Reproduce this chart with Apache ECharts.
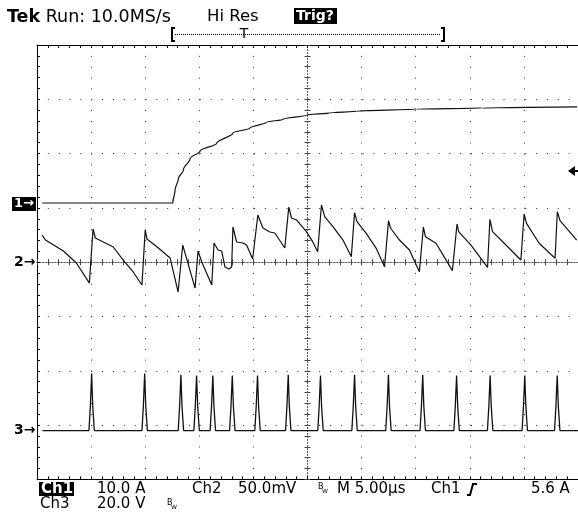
<!DOCTYPE html>
<html>
<head>
<meta charset="utf-8">
<script src="https://cdn.jsdelivr.net/npm/echarts@6/dist/echarts.min.js"></script>
<style>
html, body { margin: 0; padding: 0; background: #fff; }
#main { width: 578px; height: 516px; }
</style>
</head>
<body>
<div id="main"></div>
<script>
// time in µs from the screen centre (5 µs/div)
// Ch1: current in A (10 A/div)
var ch1Trace = [
    [-24.52, 0], [-12.45, 0], [-12.24, 2.4], [-11.93, 4.5], [-11.47, 6.1], [-10.85, 8.2],
    [-9.93, 9.6], [-8.39, 11.0], [-6.89, 12.9], [-5.32, 13.8], [-3.76, 14.9], [-2.28, 15.4],
    [-0.07, 16.2], [2.05, 16.6], [4.54, 16.9], [10.07, 17.3], [16.15, 17.5], [24.91, 17.7]
];

// Ch2: mV (50 mV/div)
var ch2Trace = [
    [-24.52, 25.0], [-24.22, 20.4], [-22.56, 10.3], [-21.36, -0.7], [-20.16, -19.2],
    [-19.82, 30.6], [-19.61, 22.3], [-17.95, 14.0], [-17.03, 2.0], [-16.11, -9.0], [-15.30, -21.0],
    [-15.0, 29.7], [-14.84, 21.4], [-13.89, 14.0], [-12.70, 3.9], [-11.96, -27.4],
    [-11.53, 15.8], [-10.39, -23.8], [-10.12, 10.3], [-9.77, 0.2], [-8.85, -21.0],
    [-8.64, 17.7], [-8.27, 11.2], [-7.93, 10.3], [-7.63, -4.4], [-7.26, -6.3], [-7.01, -4.4],
    [-6.89, 32.4], [-6.55, 18.6], [-5.97, 17.7], [-5.63, 15.8], [-5.07, 2.9],
    [-4.59, 43.5], [-4.12, 31.5], [-3.48, 27.8], [-3.02, 26.9], [-2.10, 13.1],
    [-1.73, 50.8], [-1.48, 40.7], [-1.02, 38.9], [-0.10, 28.1], [0.48, 18.9], [0.94, 9.7],
    [1.29, 52.7], [1.59, 41.9], [2.35, 32.7], [3.28, 20.4], [4.05, 5.1],
    [4.35, 45.6], [4.57, 37.3], [5.43, 26.6], [6.35, 12.8], [7.12, -4.1],
    [7.49, 38.2], [7.67, 31.5], [8.50, 20.4], [9.42, 11.2], [10.34, -8.7],
    [10.71, 32.4], [10.90, 23.5], [11.88, 17.4], [13.39, -7.8],
    [13.82, 35.2], [13.97, 28.1], [15.11, 15.8], [16.64, -4.7],
    [16.86, 39.5], [17.10, 28.1], [18.34, 15.8], [19.72, 2.0],
    [20.02, 44.4], [20.24, 35.8], [21.41, 17.4], [22.88, 3.6],
    [23.09, 46.5], [23.34, 38.2], [24.88, 20.4]
];

// Ch3: V (20 V/div)
var ch3Trace = [
    [-24.5, 0],
    [-20.2, 0], [-20.07, 9], [-19.95, 21], [-19.85, 9], [-19.7, 0],
    [-15.3, 0], [-15.17, 9], [-15.05, 21], [-14.95, 9], [-14.8, 0],
    [-11.95, 0], [-11.82, 9], [-11.7, 20.5], [-11.6, 9], [-11.45, 0],
    [-10.5, 0], [-10.37, 9], [-10.25, 20.3], [-10.15, 9], [-10.0, 0],
    [-9.0, 0], [-8.87, 9], [-8.75, 20.3], [-8.65, 9], [-8.5, 0],
    [-7.2, 0], [-7.07, 9], [-6.95, 20.3], [-6.85, 9], [-6.7, 0],
    [-4.87, 0], [-4.74, 9], [-4.62, 20.3], [-4.52, 9], [-4.37, 0],
    [-2.03, 0], [-1.9, 9], [-1.78, 20.5], [-1.68, 9], [-1.53, 0],
    [0.95, 0], [1.08, 9], [1.2, 20.3], [1.3, 9], [1.45, 0],
    [4.1, 0], [4.23, 9], [4.35, 20.5], [4.45, 9], [4.6, 0],
    [7.23, 0], [7.36, 9], [7.48, 20.5], [7.58, 9], [7.73, 0],
    [10.4, 0], [10.53, 9], [10.65, 20.5], [10.75, 9], [10.9, 0],
    [13.53, 0], [13.66, 9], [13.78, 20.3], [13.88, 9], [14.03, 0],
    [16.63, 0], [16.76, 9], [16.88, 20.3], [16.98, 9], [17.13, 0],
    [19.83, 0], [19.96, 9], [20.08, 20.3], [20.18, 9], [20.33, 0],
    [22.83, 0], [22.96, 9], [23.08, 20.3], [23.18, 9], [23.33, 0],
    [25, 0]
];

var header = ['Tek', ' Run: 10.0MS/s', 'Hi Res', 'Trig?'];
var readout1 = ['Ch1', '10.0 A', 'Ch2', '50.0mV', 'M 5.00µs', 'Ch1', '5.6 A'];
var readout2 = ['Ch3', '20.0 V'];

var FONT = '"DejaVu Sans"';
var dots = [1, 9.85];

function borderAxis(pos, split) {
    return {
        type: 'value', min: -25, max: 25, interval: 5, position: pos,
        axisLine: { onZero: false, lineStyle: { color: '#000', width: 1 } },
        axisTick: { inside: true, length: 3, lineStyle: { color: '#000' } },
        minorTick: { show: true, splitNumber: 5, length: 3, lineStyle: { color: '#000' } },
        splitLine: { show: split, lineStyle: { color: '#333', width: 1, type: dots } },
        axisLabel: { show: false }
    };
}
function centreX(inside) {
    return {
        type: 'value', min: -25, max: 25, interval: 5, position: 'bottom',
        axisLine: { onZero: true, onZeroAxisIndex: 0, lineStyle: { color: '#555', type: [1, 2] } },
        axisTick: { inside: inside, length: 3, lineStyle: { color: '#444' } },
        minorTick: { show: true, splitNumber: 5, length: 3, lineStyle: { color: '#444' } },
        splitLine: { show: false },
        axisLabel: { show: false }
    };
}
function borderY() {
    return {
        type: 'value', min: -4, max: 4, interval: 1, position: 'left',
        axisLine: { onZero: false, lineStyle: { color: '#000', width: 1 } },
        axisTick: { inside: true, length: 3, lineStyle: { color: '#000' } },
        minorTick: { show: true, splitNumber: 5, length: 3, lineStyle: { color: '#000' } },
        splitLine: { show: true, lineStyle: { color: '#333', width: 1, type: dots } },
        axisLabel: { show: false }
    };
}
function centreY(inside) {
    return {
        type: 'value', min: -4, max: 4, interval: 1, position: 'left',
        axisLine: { onZero: true, onZeroAxisIndex: 0, lineStyle: { color: '#555', type: [1, 2] } },
        axisTick: { inside: inside, length: 3, lineStyle: { color: '#444' } },
        minorTick: { show: true, splitNumber: 5, length: 3, lineStyle: { color: '#444' } },
        splitLine: { show: false },
        axisLabel: { show: false }
    };
}
function txt(x, y, s, size, opts) {
    opts = opts || {};
    return {
        type: 'text', x: x, y: y, z: 10,
        style: {
            text: s, fontSize: size, fontFamily: FONT, fontWeight: opts.bold ? 'bold' : 'normal',
            fill: opts.fill || '#000', verticalAlign: 'top', align: opts.align || 'left', rich: opts.rich
        }
    };
}
function box(x, y, w, h) {
    return { type: 'rect', z: 9, shape: { x: x, y: y, width: w, height: h }, style: { fill: '#000' } };
}
function pline(pts, w, dash) {
    return { type: 'polyline', z: 10, shape: { points: pts }, style: { stroke: '#000', lineWidth: w || 1, lineDash: dash || null, fill: null } };
}

var chart = echarts.init(document.getElementById('main'));
chart.setOption({
    animation: false,
    backgroundColor: '#fff',
    grid: { left: 37, top: 45, width: 542, height: 434.4 },
    xAxis: [borderAxis('bottom', true), borderAxis('top', false), centreX(true), centreX(false)],
    yAxis: [
        borderY(), centreY(true), centreY(false),
        { type: 'value', show: false, min: -50.9, max: 29.1 },
        { type: 'value', show: false, min: -200, max: 200 },
        { type: 'value', show: false, min: -18, max: 142 }
    ],
    series: [
        { name: 'Ch1', type: 'line', xAxisIndex: 0, yAxisIndex: 3, data: ch1Trace, showSymbol: false,
          smooth: 0.35, smoothMonotone: 'y', lineStyle: { color: '#111', width: 1.2 }, z: 5 },
        { name: 'Ch2', type: 'line', xAxisIndex: 0, yAxisIndex: 4, data: ch2Trace, showSymbol: false,
          lineStyle: { color: '#111', width: 1.2 }, z: 5 },
        { name: 'Ch3', type: 'line', xAxisIndex: 0, yAxisIndex: 5, data: ch3Trace, showSymbol: false,
          lineStyle: { color: '#111', width: 1.3 }, z: 5 }
    ],
    graphic: [
        // header
        txt(7, 8, '{b|' + header[0] + '}' + header[1], 17.5, { rich: { b: { fontWeight: 'bold', fontSize: 17.5, fontFamily: FONT } } }),
        txt(207, 8, header[2], 16.5),
        box(294, 8, 43, 16),
        txt(296, 9, header[3], 14, { bold: true, fill: '#fff' }),
        // record view bar
        pline([[175, 28], [172, 28], [172, 41], [175, 41]], 2),
        pline([[175, 34.5], [441, 34.5]], 1, [1, 1]),
        pline([[441, 28], [444, 28], [444, 41], [441, 41]], 2),
        txt(244, 27, 'T', 14, { align: 'center' }),
        // channel markers
        box(12, 197, 24, 14),
        txt(14, 197, '1→', 13, { bold: true, fill: '#fff' }),
        txt(14, 255, '2→', 14, { bold: true }),
        txt(14, 423, '3→', 14, { bold: true }),
        // trigger level arrow
        { type: 'polygon', z: 10, shape: { points: [[568, 171], [575, 166], [575, 176]] }, style: { fill: '#000' } },
        pline([[575, 171], [578, 171]], 2),
        // readout
        box(39, 482, 35, 14),
        txt(41, 482, readout1[0], 15, { bold: true, fill: '#fff' }),
        txt(97, 482, readout1[1], 15),
        txt(192, 482, readout1[2], 15),
        txt(238, 482, readout1[3], 15),
        txt(318, 483, 'B', 8),
        txt(322, 488, 'W', 6),
        txt(337, 482, readout1[4], 15),
        txt(431, 482, readout1[5], 15),
        pline([[467, 495], [470, 495], [473, 484], [477, 484]], 2),
        txt(531, 482, readout1[6], 15),
        txt(40, 497, readout2[0], 15),
        txt(97, 497, readout2[1], 15),
        txt(167, 499, 'B', 8),
        txt(171, 504, 'W', 6)
    ]
});
</script>
</body>
</html>
